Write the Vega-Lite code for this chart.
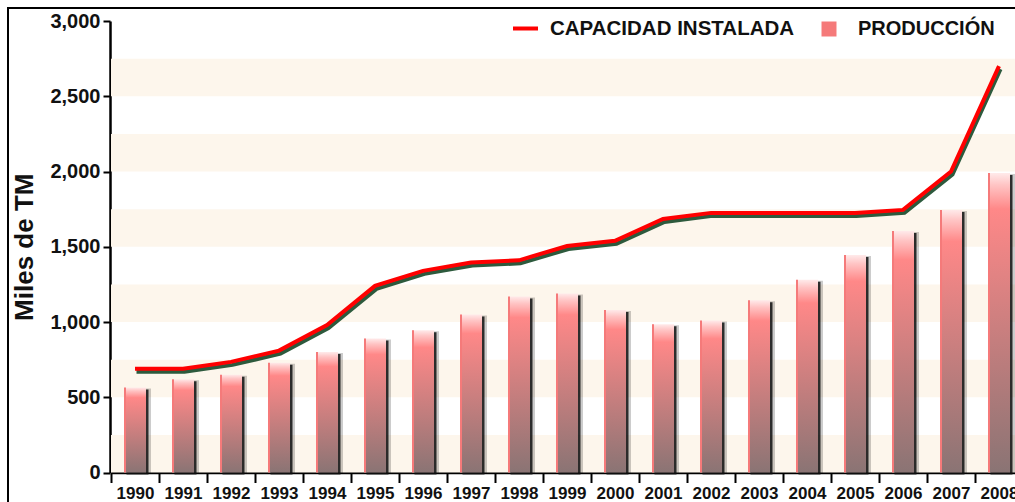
{
  "$schema": "https://vega.github.io/schema/vega-lite/v6.json",
  "width": 1009,
  "height": 496,
  "autosize": {"type": "none"},
  "padding": {"left": 8, "top": 8, "right": -2, "bottom": -2},
  "background": "white",
  "config": {
    "font": "Liberation Sans",
    "view": {"stroke": "#000000", "strokeWidth": 2},
    "axis": {"domainColor": "#000000", "domainWidth": 2.5, "tickColor": "#000000", "tickWidth": 2, "labelColor": "#111111", "labelFont": "Liberation Sans", "labelFontWeight": "bold", "grid": false, "zindex": 1},
    "axisX": {"tickBand": "extent", "tickSize": 10, "labelFontSize": 17, "labelAngle": 0, "labelPadding": 3, "labelAlign": "center"},
    "axisY": {"tickSize": 7, "labelFontSize": 20, "labelPadding": 3, "titleFontSize": 26, "titleFontWeight": "bold", "titleColor": "#111111", "titlePadding": 12},
    "legend": {"padding": 0, "title": null}
  },
  "datasets": {
    "main": [
      {"year": "1990", "prod": 565, "cap": 690},
      {"year": "1991", "prod": 620, "cap": 690},
      {"year": "1992", "prod": 650, "cap": 735},
      {"year": "1993", "prod": 730, "cap": 810},
      {"year": "1994", "prod": 800, "cap": 980},
      {"year": "1995", "prod": 890, "cap": 1240},
      {"year": "1996", "prod": 945, "cap": 1340},
      {"year": "1997", "prod": 1050, "cap": 1395},
      {"year": "1998", "prod": 1170, "cap": 1410},
      {"year": "1999", "prod": 1190, "cap": 1505},
      {"year": "2000", "prod": 1080, "cap": 1540},
      {"year": "2001", "prod": 985, "cap": 1685},
      {"year": "2002", "prod": 1010, "cap": 1725},
      {"year": "2003", "prod": 1145, "cap": 1725},
      {"year": "2004", "prod": 1280, "cap": 1725},
      {"year": "2005", "prod": 1445, "cap": 1725},
      {"year": "2006", "prod": 1605, "cap": 1745},
      {"year": "2007", "prod": 1745, "cap": 2000},
      {"year": "2008", "prod": 1990, "cap": 2700}
    ],
    "stripes": [
      {"lo": 0, "hi": 250},
      {"lo": 500, "hi": 750},
      {"lo": 1000, "hi": 1250},
      {"lo": 1500, "hi": 1750},
      {"lo": 2000, "hi": 2250},
      {"lo": 2500, "hi": 2750}
    ]
  },
  "resolve": {"scale": {"x": "independent"}, "axis": {"x": "independent"}},
  "layer": [
    {
      "data": {"name": "stripes"},
      "mark": {"type": "rect", "color": "#fdf6ec"},
      "encoding": {
        "x": {"datum": 0, "type": "quantitative", "scale": {"domain": [0, 1], "range": [103, 1015], "nice": false, "zero": false}, "axis": null},
        "x2": {"datum": 1},
        "y": {"field": "lo", "type": "quantitative", "title": "Miles de TM", "scale": {"domain": [0, 3000], "range": [464.5, 13], "nice": false}},
        "y2": {"field": "hi"}
      }
    },
    {
      "layer": [
        {
          "data": {"name": "main"},
          "mark": {"type": "bar", "color": "#000000", "opacity": 0.2, "size": 22, "xOffset": 5, "yOffset": 1},
          "encoding": {
            "x": {"field": "year", "type": "ordinal", "title": null},
            "y": {"field": "prod", "type": "quantitative", "title": "Miles de TM"}
          }
        },
        {
          "data": {"name": "main"},
          "mark": {"type": "bar", "color": "#111111", "opacity": 0.85, "size": 22, "xOffset": 2.5, "yOffset": 2},
          "encoding": {
            "x": {"field": "year", "type": "ordinal", "title": null},
            "y": {"field": "prod", "type": "quantitative", "title": "Miles de TM"}
          }
        },
        {
          "data": {"name": "main"},
          "mark": {"type": "bar", "size": 22, "color": {"gradient": "linear", "x1": 0, "y1": 0, "x2": 0, "y2": 1, "stops": [{"offset": 0, "color": "#ffeaea"}, {"offset": 0.04, "color": "#ffc4c4"}, {"offset": 0.12, "color": "#ff8888"}, {"offset": 1, "color": "#8a7474"}]}},
          "encoding": {
            "x": {
              "field": "year", "type": "ordinal", "title": null,
              "scale": {"range": [103, 1015], "paddingInner": 0, "paddingOuter": 0},
              "axis": {"orient": "bottom", "offset": -31.5, "tickBand": "extent", "tickSize": 10, "labelFontSize": 17, "labelAngle": 0, "labelPadding": 3, "labelAlign": "center", "title": null}
            },
            "y": {
              "field": "prod", "type": "quantitative", "title": "Miles de TM",
              "scale": {"domain": [0, 3000], "range": [464.5, 13], "nice": false},
              "axis": {"orient": "left", "offset": -102, "values": [0, 500, 1000, 1500, 2000, 2500, 3000], "format": ",d", "tickSize": 7, "labelFontSize": 20, "labelPadding": 3, "title": "Miles de TM", "titleFontSize": 26, "titleFontWeight": "bold", "titleColor": "#111111", "titlePadding": 12}
            }
          }
        },
        {
          "data": {"name": "main"},
          "mark": {"type": "bar", "size": 2, "xOffset": -10},
          "encoding": {
            "x": {"field": "year", "type": "ordinal", "title": null},
            "y": {"field": "prod", "type": "quantitative", "title": "Miles de TM"},
            "fill": {
              "datum": "PRODUCCIÓN", "type": "nominal",
              "scale": {"range": ["#f57a7a"]},
              "legend": {"orient": "none", "legendX": 811, "legendY": 11, "symbolType": "square", "symbolSize": 225, "symbolStrokeWidth": 0, "symbolOpacity": 1, "labelOffset": 19, "labelFont": "Liberation Sans", "labelFontWeight": "bold", "labelColor": "#111111", "labelFontSize": 20, "labelLimit": 500}
            }
          }
        },
        {
          "data": {"name": "main"},
          "mark": {"type": "line", "color": "#2d5a3d", "strokeWidth": 4, "xOffset": 1.5, "yOffset": 3},
          "encoding": {
            "x": {"field": "year", "type": "ordinal", "title": null},
            "y": {"field": "cap", "type": "quantitative", "title": "Miles de TM"}
          }
        },
        {
          "data": {"name": "main"},
          "mark": {"type": "line", "strokeWidth": 4},
          "encoding": {
            "x": {"field": "year", "type": "ordinal", "title": null},
            "y": {"field": "cap", "type": "quantitative", "title": "Miles de TM"},
            "stroke": {
              "datum": "CAPACIDAD INSTALADA", "type": "nominal",
              "scale": {"range": ["#ff0000"]},
              "legend": {"orient": "none", "legendX": 503, "legendY": 6, "symbolType": "stroke", "symbolSize": 625, "symbolStrokeWidth": 4, "labelOffset": 10, "labelFont": "Liberation Sans", "labelFontWeight": "bold", "labelColor": "#111111", "labelFontSize": 20.5, "labelLimit": 500}
            }
          }
        }
      ]
    }
  ]
}
